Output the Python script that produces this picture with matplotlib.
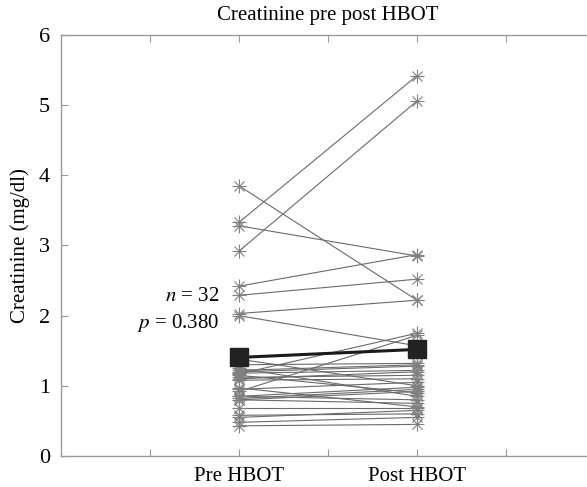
import numpy as np
import matplotlib
matplotlib.use("Agg")
import matplotlib.pyplot as plt

plt.rcParams['font.family'] = ['Liberation Serif', 'DejaVu Serif']
plt.rcParams['mathtext.fontset'] = 'stix'

# creatinine per patient (mg/dl)
pre = [3.85, 3.33, 3.28, 2.92, 2.42, 2.29, 2.03, 2.00,
       1.17, 0.92,
       1.38, 1.30, 1.25, 1.22, 1.20, 1.18, 1.15, 1.10, 1.12, 1.08, 0.97,
       0.95, 0.85, 0.82, 0.80, 0.85, 0.80, 0.68, 0.55, 0.58, 0.48, 0.43]
post = [2.22, 5.42, 2.85, 5.06, 2.87, 2.52, 2.22, 1.57,
        1.75, 1.72,
        1.00, 1.32, 0.85, 1.30, 1.28, 1.22, 0.90, 1.20, 1.15, 1.10, 0.70,
        1.05, 0.98, 0.95, 0.92, 0.80, 0.75, 0.68, 0.65, 0.60, 0.55, 0.45]
groups = ["Pre HBOT", "Post HBOT"]
n_text = "$n$ = 32"
p_text = "$p$ = 0.380"

fig = plt.figure(figsize=(5.87, 4.87), dpi=100)
ax = fig.add_axes([0.104, 0.0637, 0.9097, 0.8645])

xpos = [1, 2]
for a, b in zip(pre, post):
    ax.plot(xpos, [a, b], color="#6a6a6a", lw=0.8, zorder=2)
    # matlab style asterisk = plus + cross
    ax.plot(xpos, [a, b], ls="none", marker="+", ms=10, mew=0.8, color="#808080", zorder=3)
    ax.plot(xpos, [a, b], ls="none", marker="x", ms=7.5, mew=0.8, color="#808080", zorder=3)

means = [np.mean(pre), np.mean(post)]
ax.plot(xpos, means, color="#1a1a1a", lw=2.2, marker="s", ms=13,
        mfc="#222222", mec="#222222", zorder=5)

ax.text(0.89, 2.27, n_text, ha="right", va="center", fontsize=15)
ax.text(0.89, 1.90, p_text, ha="right", va="center", fontsize=15)

ax.set_xlim(0, 3)
ax.set_ylim(0, 6)
ax.set_xticks([0.5, 1, 1.5, 2, 2.5])
ax.set_xticklabels(["", groups[0], "", groups[1], ""])
ax.set_yticks(range(0, 7))
ax.tick_params(direction="in", length=5, width=0.8, color="#999999",
               labelsize=15, top=True, right=False, pad=8)
ax.tick_params(axis="y", labelsize=16)
for s in ax.spines.values():
    s.set_color("#999999")
    s.set_linewidth(1.0)

ax.set_title("Creatinine pre post HBOT", fontsize=15, pad=11)
ax.set_ylabel("Creatinine (mg/dl)", fontsize=15, labelpad=6)

fig.savefig("out.png", dpi=100)
